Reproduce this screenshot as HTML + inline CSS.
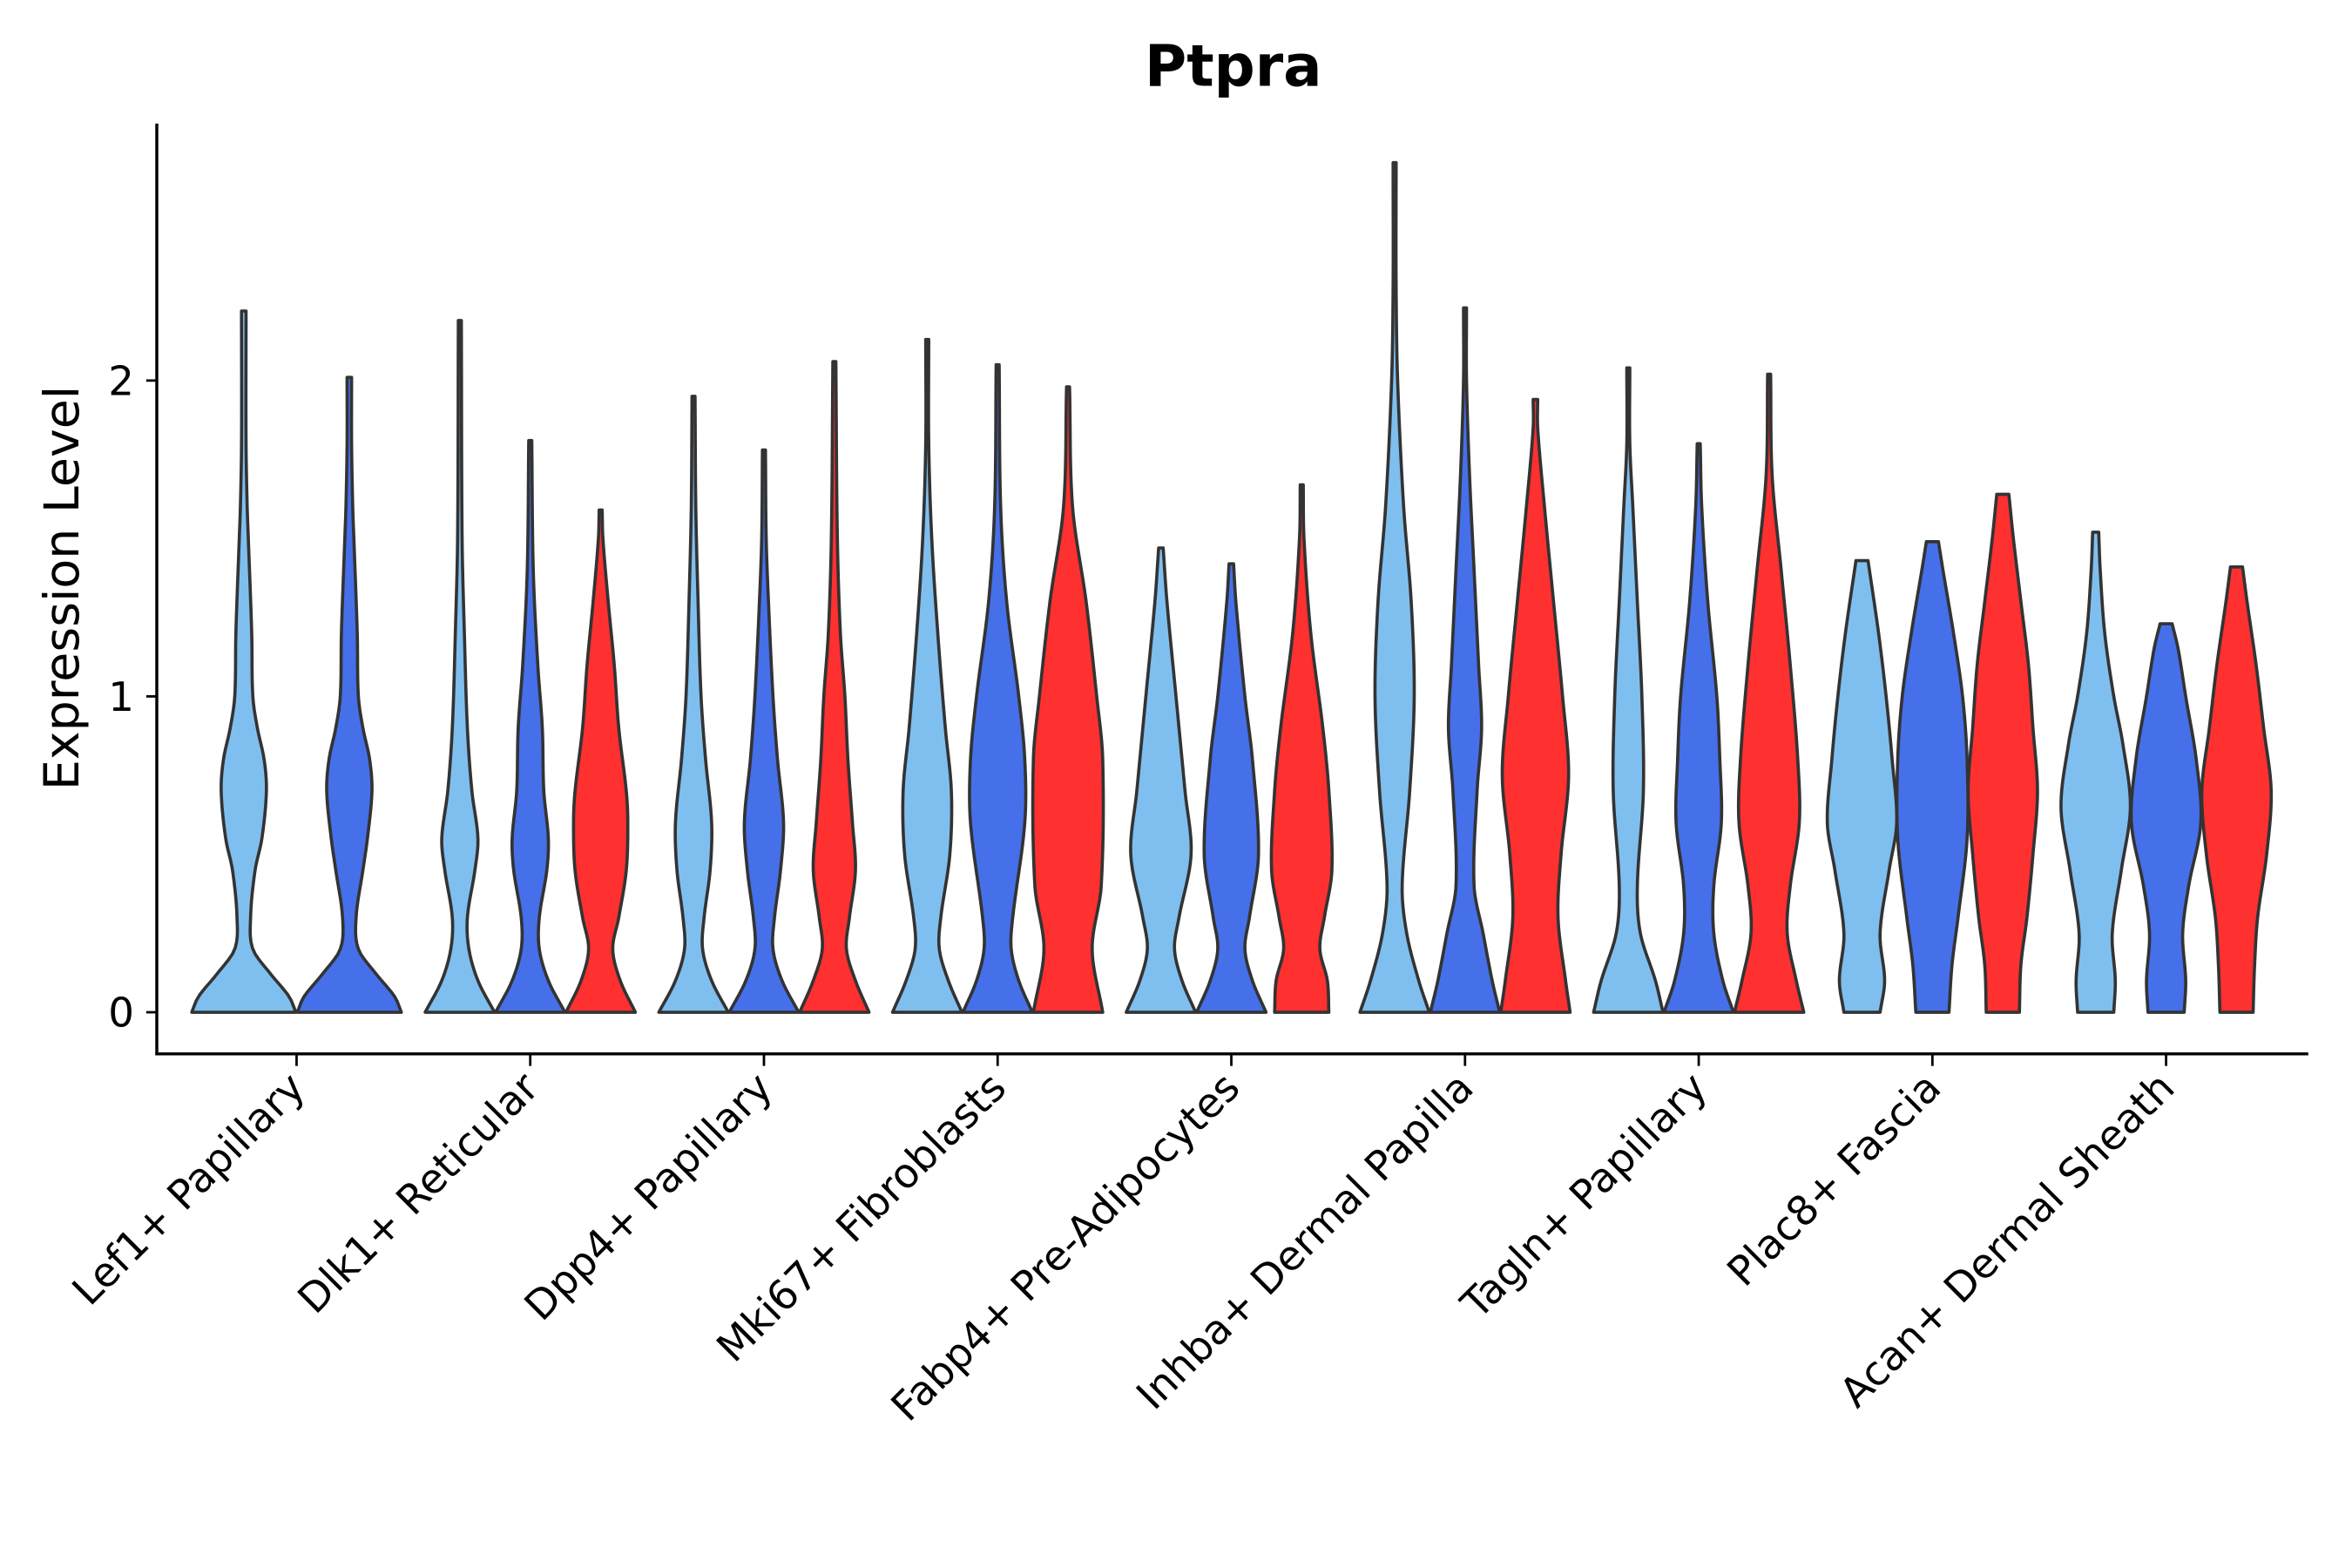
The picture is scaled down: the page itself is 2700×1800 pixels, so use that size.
<!DOCTYPE html>
<html><head><meta charset="utf-8"><style>html,body{margin:0;padding:0;background:#fff}svg{display:block}</style></head>
<body>
<svg id="s" width="2700" height="1800" viewBox="0 0 1560 1040" xmlns="http://www.w3.org/2000/svg" font-family="DejaVu Sans, Liberation Sans, sans-serif">
<rect width="1560" height="1040" fill="#fff"/>
<g id="v"></g>
<line x1="104" y1="82" x2="104" y2="700" stroke="#000" stroke-width="2"/>
<line x1="103" y1="699" x2="1531" y2="699" stroke="#000" stroke-width="2"/>
<g stroke="#000" stroke-width="1.6">
<line x1="97" y1="671.4" x2="104" y2="671.4"/><line x1="97" y1="461.9" x2="104" y2="461.9"/><line x1="97" y1="252.4" x2="104" y2="252.4"/>
</g>
<g font-size="27" text-anchor="end" fill="#000">
<text x="89" y="681">0</text><text x="89" y="471.5">1</text><text x="89" y="262">2</text>
</g>
<text x="818" y="57" text-anchor="middle" font-size="38" font-weight="bold">Ptpra</text>
<text transform="translate(52,390) rotate(-90)" text-anchor="middle" font-size="32">Expression Level</text>
<g id="xl" font-size="27" text-anchor="end"></g>
</svg>
<script>
const cols=["#7fbfef","#4570ea","#ff3030"];
const Y=v=>671.4-209.5*v;
const G=[
{off:[-35,35],sc:1.5,v:[
 [2.22,[[0,23],[0.05,20],[0.12,12],[0.2,4],[0.3,3],[0.45,5],[0.55,8],[0.7,10],[0.8,9],[0.9,6],[1.0,4],[1.2,3.5],[1.5,2],[1.6,1.5],[1.8,1],[2.22,1]]],
 [2.01,[[0,23],[0.05,20],[0.12,12],[0.2,4],[0.3,3],[0.45,6],[0.55,8],[0.7,10],[0.8,9],[0.9,6],[1.0,4],[1.2,3.5],[1.5,2],[1.6,1.5],[1.8,1],[2.01,1]]]]},
{off:[-46.7,0,46.7],sc:1,v:[
 [2.19,[[0,23],[0.1,12],[0.2,6],[0.3,5],[0.45,10],[0.55,12],[0.7,8],[0.9,5],[1.2,3],[1.5,1.5],[2.19,1]]],
 [1.81,[[0,23],[0.1,12],[0.2,6],[0.3,6],[0.45,11],[0.55,12],[0.7,9],[0.9,8],[1.1,5],[1.4,2],[1.81,1]]],
 [1.59,[[0,23],[0.1,13],[0.2,8],[0.3,12],[0.45,17],[0.6,18],[0.7,17],[0.9,12],[1.1,9],[1.3,5],[1.5,1.5],[1.59,1]]]]},
{off:[-46.7,0,46.7],sc:1,v:[
 [1.95,[[0,23],[0.1,12],[0.2,6],[0.3,7],[0.45,11],[0.6,12],[0.8,8],[1.0,5],[1.3,3],[1.6,1.5],[1.95,1]]],
 [1.78,[[0,23],[0.1,12],[0.2,6],[0.3,7],[0.45,11],[0.6,13],[0.8,9],[1.0,6],[1.3,3],[1.5,1.5],[1.78,1]]],
 [2.06,[[0,23],[0.1,14],[0.2,8],[0.3,10],[0.45,14],[0.6,12],[0.8,9],[1.0,7],[1.2,4],[1.5,2],[2.06,1]]]]},
{off:[-46.7,0,46.7],sc:1,v:[
 [2.13,[[0,23],[0.1,14],[0.2,8],[0.3,9],[0.5,15],[0.7,16],[0.9,12],[1.2,7],[1.5,3],[1.8,1],[2.13,1]]],
 [2.05,[[0,23],[0.1,14],[0.2,9],[0.3,10],[0.6,18],[0.8,18],[1.0,14],[1.3,6],[1.6,2],[2.05,1]]],
 [1.98,[[0,23],[0.2,16],[0.4,22],[0.8,23],[1.0,19],[1.3,12],[1.6,3],[1.98,1]]]]},
{off:[-46.7,0,46.7],sc:1,v:[
 [1.47,[[0,23],[0.1,14],[0.2,9],[0.3,12],[0.5,20],[0.7,16],[1.0,10],[1.3,4],[1.47,1.5]]],
 [1.42,[[0,23],[0.1,14],[0.2,9],[0.3,12],[0.5,18],[0.8,14],[1.0,9],[1.3,3],[1.42,1.5]]],
 [1.67,[[0,18],[0.1,17],[0.2,12],[0.3,15],[0.45,20],[0.7,18],[0.9,14],[1.2,6],[1.5,1.5],[1.67,1]]]]},
{off:[-46.7,0,46.7],sc:1,v:[
 [2.69,[[0,23],[0.1,16],[0.25,8],[0.4,5],[0.7,10],[1.0,13],[1.3,11],[1.6,6],[2.0,2],[2.3,1],[2.69,1]]],
 [2.23,[[0,23],[0.1,18],[0.25,12],[0.4,6],[0.7,8],[0.9,11],[1.1,9],[1.4,6],[1.7,3],[2.0,1],[2.23,1]]],
 [1.94,[[0,23],[0.1,20],[0.3,15],[0.5,17],[0.75,22],[1.0,18],[1.3,12],[1.6,6],[1.85,1.5],[1.94,1.5]]]]},
{off:[-46.7,0,46.7],sc:1,v:[
 [2.04,[[0,23],[0.1,18],[0.25,8],[0.4,6],[0.7,10],[1.0,9],[1.3,6],[1.6,3],[1.8,1],[2.04,1]]],
 [1.80,[[0,23],[0.1,16],[0.25,10],[0.4,10],[0.6,15],[0.8,14],[1.0,12],[1.3,6],[1.6,2],[1.8,1]]],
 [2.02,[[0,23],[0.1,18],[0.25,12],[0.4,14],[0.6,20],[0.8,19],[1.1,14],[1.4,8],[1.7,2],[2.02,1]]]]},
{off:[-46.7,0,46.7],sc:1,v:[
 [1.43,[[0,12],[0.1,15],[0.25,12],[0.45,18],[0.6,23],[0.8,20],[1.0,16],[1.2,11],[1.43,4]]],
 [1.49,[[0,11],[0.15,13],[0.3,17],[0.55,23],[0.8,23],[1.0,20],[1.2,14],[1.4,7],[1.49,4]]],
 [1.64,[[0,11],[0.15,12],[0.3,16],[0.5,20],[0.7,23],[0.9,20],[1.1,17],[1.3,12],[1.5,7],[1.64,4]]]]},
{off:[-46.7,0,46.7],sc:1,v:[
 [1.52,[[0,12],[0.1,13],[0.25,11],[0.45,17],[0.65,23],[0.85,18],[1.0,12],[1.2,6],[1.4,3],[1.52,2]]],
 [1.23,[[0,12],[0.1,13],[0.25,11],[0.4,15],[0.6,23],[0.8,20],[1.0,13],[1.15,8],[1.23,4]]],
 [1.41,[[0,11],[0.15,12],[0.3,14],[0.5,20],[0.7,23],[0.9,18],[1.1,13],[1.3,7],[1.41,4]]]]}
];
G.forEach((g,i)=>g.x=196.7+155*i);
const labels=["Lef1+ Papillary","Dlk1+ Reticular","Dpp4+ Papillary","Mki67+ Fibroblasts","Fabp4+ Pre-Adipocytes","Inhba+ Dermal Papilla","Tagln+ Papillary","Plac8+ Fascia","Acan+ Dermal Sheath"];
function hw(p,v){
 for(let i=0;i<p.length-1;i++){if(v<=p[i+1][0]){
  const a=p[Math.max(0,i-1)],b=p[i],c=p[i+1],d=p[Math.min(p.length-1,i+2)];
  const t=(v-b[0])/(c[0]-b[0]||1);
  const m1=(c[1]-a[1])/((c[0]-a[0])||1)*(c[0]-b[0]),m2=(d[1]-b[1])/((d[0]-b[0])||1)*(c[0]-b[0]);
  const t2=t*t,t3=t2*t;
  let r=(2*t3-3*t2+1)*b[1]+(t3-2*t2+t)*m1+(-2*t3+3*t2)*c[1]+(t3-t2)*m2;
  return Math.max(r,0.8);}}
 return p[p.length-1][1];
}
let h="";
G.forEach((g,gi)=>{
 g.v.forEach((vv,k)=>{
  const cx=g.x+g.off[k],top=vv[0],p=vv[1],sc=g.sc;
  const N=120,L=[],R=[];
  for(let i=0;i<=N;i++){const v=top*i/N;const w=hw(p,v)*sc;L.push([cx-w,Y(v)]);R.push([cx+w,Y(v)]);}
  let d="M"+R.map(q=>q[0].toFixed(2)+","+q[1].toFixed(2)).join("L");
  d+="L"+L.reverse().map(q=>q[0].toFixed(2)+","+q[1].toFixed(2)).join("L")+"Z";
  h+=`<path d="${d}" fill="${cols[k]}" stroke="#333" stroke-width="2.1" stroke-linejoin="round"/>`;
 });
 h+=`<line x1="${g.x}" y1="699" x2="${g.x}" y2="707" stroke="#000" stroke-width="1.6"/>`;
});
document.getElementById("v").innerHTML=h;
let t="";
labels.forEach((l,i)=>{const x=196.7+155*i;t+=`<text transform="translate(${x+7},${723}) rotate(-45)">${l}</text>`;});
document.getElementById("xl").innerHTML=t;
</script>
</body></html>
